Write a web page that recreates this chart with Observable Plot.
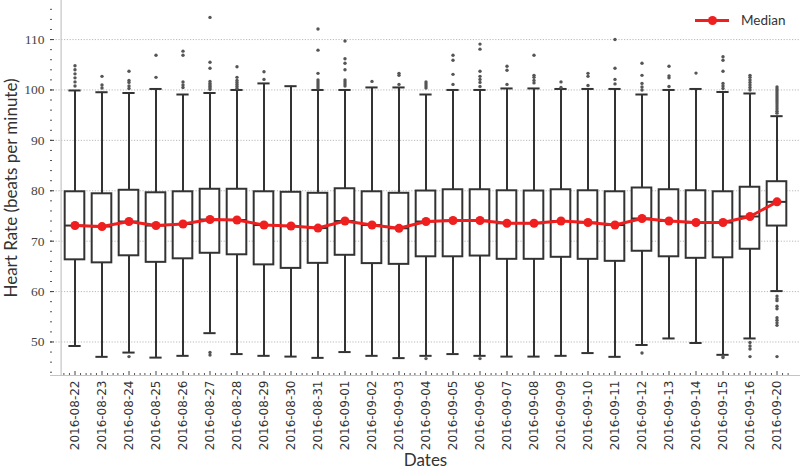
<!DOCTYPE html>
<html>
<head>
<meta charset="utf-8">
<script src="https://cdn.jsdelivr.net/npm/d3@7"></script>
<script src="https://cdn.jsdelivr.net/npm/@observablehq/plot@0.6"></script>
<style>
  html, body { margin: 0; padding: 0; background: #fff; }
  #wrap { position: relative; width: 800px; height: 471px; }
  #legend { position: absolute; left: 695px; top: 10px; height: 20px; display: flex; align-items: center;
            font-family: Lato, sans-serif; font-size: 13.5px; color: #333; }
  #legend .sw { position: relative; width: 34px; height: 20px; margin-right: 12px; }
  #legend .sw .ln { position: absolute; left: 0; right: 0; top: 8.5px; height: 3px; background: #ef1f1f; }
  #legend .sw .dt { position: absolute; left: 12.5px; top: 5.5px; width: 9px; height: 9px; border-radius: 50%; background: #ef1f1f; }
</style>
</head>
<body>
<div id="wrap">
  <div id="chart"></div>
  <div id="legend"><div class="sw"><div class="ln"></div><div class="dt"></div></div><span>Median</span></div>
</div>
<script>
const dates = ["2016-08-22","2016-08-23","2016-08-24","2016-08-25","2016-08-26","2016-08-27","2016-08-28","2016-08-29","2016-08-30","2016-08-31","2016-09-01","2016-09-02","2016-09-03","2016-09-04","2016-09-05","2016-09-06","2016-09-07","2016-09-08","2016-09-09","2016-09-10","2016-09-11","2016-09-12","2016-09-13","2016-09-14","2016-09-15","2016-09-16","2016-09-20"];
const q1 = [66.3, 65.7, 67.1, 65.8, 66.5, 67.6, 67.3, 65.3, 64.6, 65.6, 67.2, 65.55, 65.4, 66.9, 66.9, 67.05, 66.4, 66.4, 66.8, 66.4, 66.0, 68.0, 66.9, 66.6, 66.7, 68.4, 73.0];
const median = [73.1, 72.9, 73.9, 73.1, 73.4, 74.3, 74.2, 73.2, 73.0, 72.6, 74.0, 73.2, 72.55, 73.9, 74.1, 74.1, 73.55, 73.55, 74.0, 73.7, 73.2, 74.5, 74.0, 73.7, 73.7, 74.9, 77.8];
const q3 = [79.8, 79.4, 80.1, 79.6, 79.8, 80.3, 80.3, 79.8, 79.7, 79.5, 80.4, 79.8, 79.5, 79.95, 80.2, 80.2, 80.0, 79.95, 80.2, 80.0, 79.8, 80.55, 80.2, 80.0, 79.8, 80.7, 81.8];
const whiskerLow = [49.2, 47.05, 47.9, 46.9, 47.25, 51.75, 47.6, 47.25, 47.1, 46.85, 48.0, 47.25, 46.8, 47.25, 47.6, 47.25, 47.1, 47.1, 47.25, 47.8, 47.05, 49.4, 50.7, 49.8, 47.45, 50.7, 60.1];
const whiskerHigh = [99.9, 99.55, 99.4, 100.2, 99.1, 99.4, 100.0, 101.3, 100.75, 100.0, 100.0, 100.5, 100.5, 99.1, 100.0, 100.0, 100.3, 100.3, 100.2, 100.2, 100.2, 99.1, 100.0, 100.2, 99.6, 99.3, 94.8];
const outliers = [
  [100.8, 101.6, 102.4, 103.2, 104.0, 104.8],
  [100.4, 101.0, 102.7],
  [47.1, 100.3, 100.8, 101.5, 101.9, 103.7],
  [102.5, 106.9],
  [100.5, 101.0, 101.6, 106.9, 107.7],
  [47.4, 47.9, 100.1, 100.4, 100.7, 101.0, 101.3, 101.7, 104.3, 105.5, 114.4],
  [100.3, 100.7, 101.1, 101.5, 101.9, 102.5, 104.6],
  [102.1, 103.6],
  [],
  [100.4, 100.8, 101.2, 101.6, 102.0, 103.3, 107.9, 112.1],
  [100.8, 101.2, 101.6, 102.0, 104.0, 105.3, 106.2, 109.7],
  [101.7],
  [101.1, 102.9, 103.3],
  [46.7, 100.4, 100.8, 101.2, 101.6],
  [101.1, 103.1, 105.9, 106.9],
  [46.7, 100.7, 101.5, 102.1, 102.7, 103.7, 108.1, 109.1],
  [101.1, 103.9, 104.7],
  [101.4, 101.9, 102.5, 102.9, 106.9],
  [100.5, 101.6],
  [100.9, 102.7, 103.3],
  [101.2, 102.1, 104.3, 110.0],
  [47.8, 100.0, 100.6, 101.3, 102.9, 105.3],
  [100.7, 102.4, 102.8, 104.7],
  [103.35],
  [46.9, 47.2, 100.3, 100.8, 101.3, 103.7, 105.9, 106.6],
  [47.1, 48.6, 49.2, 49.9, 100.0, 100.5, 101.0, 101.5, 102.0, 102.5, 102.9],
  [47.1, 53.3, 53.8, 54.3, 54.8, 56.6, 57.1, 58.2, 58.6, 59.1, 95.4, 95.8, 96.2, 96.6, 97.0, 97.4, 97.8, 98.2, 98.6, 99.0, 99.4, 99.8, 100.2, 100.6]
];
const yTicks = [50, 60, 70, 80, 90, 100, 110];
const yMinorTicks = d3.range(44, 118, 2);
const yDomain = [43.35, 117.75];

const stats = dates.map((d, i) => ({date: d, q1: q1[i], med: median[i], q3: q3[i], lo: whiskerLow[i], hi: whiskerHigh[i]}));
const outlierRows = dates.flatMap((d, i) => outliers[i].map(v => ({date: d, v})));

const W = 800, H = 471, mL = 50, mR = 0, mT = 0, mB = 96;
const band = (W - mL - mR) / dates.length;
const boxInset = (band - 20.4) / 2;
const capInset = (band - 13) / 2;
const plotH = H - mT - mB;
const ink = "#333";

const minorMarks = [-2, -1, 1, 2].map(k =>
  Plot.ruleX(dates, {x: d => d, dx: k * band * 0.2, insetTop: plotH - 2, stroke: "#555", strokeWidth: 1})
);

const chart = Plot.plot({
  width: W, height: H,
  marginLeft: mL, marginRight: mR, marginTop: mT, marginBottom: mB,
  style: {background: "#fff"},
  x: {type: "band", domain: dates, padding: 0, label: null},
  y: {domain: yDomain, label: null},
  marks: [
    Plot.ruleY(yTicks, {stroke: "#a8a8a8", strokeWidth: 0.8, strokeDasharray: "1.2,1.6"}),
    // spines
    Plot.ruleX([dates[0]], {x: d => d, dx: -band / 2, stroke: "#c4c4c4", strokeWidth: 1.2}),
    Plot.ruleY([yDomain[0]], {stroke: "#c4c4c4", strokeWidth: 1.2}),
    // axis ticks (inward)
    Plot.ruleY(yMinorTicks, {insetRight: W - mL - mR - 2, stroke: "#555"}),
    Plot.ruleY(yTicks, {insetRight: W - mL - mR - 4, stroke: "#444"}),
    ...minorMarks,
    Plot.ruleX(dates, {x: d => d, insetTop: plotH - 4, stroke: "#444", strokeWidth: 1}),
    // whiskers
    Plot.ruleX(stats, {x: "date", y1: "lo", y2: "q1", stroke: ink, strokeWidth: 2}),
    Plot.ruleX(stats, {x: "date", y1: "q3", y2: "hi", stroke: ink, strokeWidth: 2}),
    Plot.tickY(stats, {x: "date", y: "lo", insetLeft: capInset, insetRight: capInset, stroke: ink, strokeWidth: 2}),
    Plot.tickY(stats, {x: "date", y: "hi", insetLeft: capInset, insetRight: capInset, stroke: ink, strokeWidth: 2}),
    // boxes
    Plot.barY(stats, {x: "date", y1: "q1", y2: "q3", fill: "#fff", stroke: ink, strokeWidth: 2, insetLeft: boxInset, insetRight: boxInset}),
    Plot.tickY(stats, {x: "date", y: "med", insetLeft: boxInset, insetRight: boxInset, stroke: ink, strokeWidth: 2}),
    // outliers
    Plot.dot(outlierRows, {x: "date", y: "v", r: 1.7, fill: "#555", stroke: null}),
    // median line
    Plot.line(stats, {x: "date", y: "med", stroke: "#ef1f1f", strokeWidth: 3}),
    Plot.dot(stats, {x: "date", y: "med", r: 4.5, fill: "#ef1f1f", stroke: null}),
    // axes
    Plot.axisY(yTicks, {tickSize: 0, tickPadding: 6, fontSize: 13.5, fontFamily: "Liberation Serif, serif", color: "#444", label: null}),
    Plot.axisX({tickSize: 0, tickPadding: 5, tickRotate: -90, fontSize: 12, fontFamily: "DejaVu Sans, sans-serif", color: "#333", label: null}),
    // titles
    Plot.text(["Heart Rate (beats per minute)"], {frameAnchor: "left", dx: -39, rotate: -90, textAnchor: "middle", lineAnchor: "middle", fontSize: 17, fontFamily: "Lato, sans-serif", fill: "#333"}),
    Plot.text(["Dates"], {frameAnchor: "bottom", dy: 90, textAnchor: "middle", lineAnchor: "bottom", fontSize: 17, fontFamily: "Lato, sans-serif", fill: "#333"})
  ]
});
document.getElementById("chart").appendChild(chart);
</script>
</body>
</html>
